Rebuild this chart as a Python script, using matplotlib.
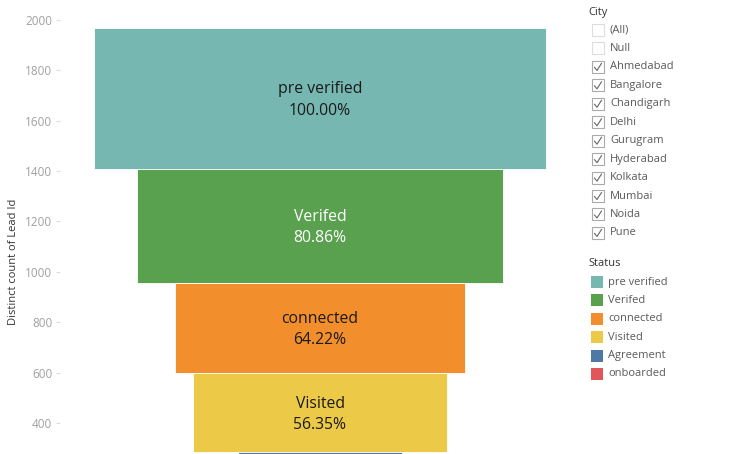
import numpy as np
import matplotlib
matplotlib.use('Agg')
import matplotlib.pyplot as plt
from matplotlib.patches import Rectangle
from matplotlib.lines import Line2D

plt.rcParams['font.family'] = ['Open Sans', 'DejaVu Sans']

# funnel data (distinct count of Lead Id per status)
statuses = ['pre verified', 'Verifed', 'connected', 'Visited', 'Agreement', 'onboarded']
counts = [559, 452, 359, 315, 204, 79]
colors = ['#76B7B2', '#59A14F', '#F28E2B', '#EDC948', '#4E79A7', '#E15759']
label_colors = ['#1a1a1a', 'white', '#1a1a1a', '#1a1a1a', 'white', 'white']

cities = ['(All)', 'Null', 'Ahmedabad', 'Bangalore', 'Chandigarh', 'Delhi', 'Gurugram',
          'Hyderabad', 'Kolkata', 'Mumbai', 'Noida', 'Pune']
city_checked = [False, False] + [True] * 10

yticks = [400, 600, 800, 1000, 1200, 1400, 1600, 1800, 2000]

W, H = 736, 454
fig = plt.figure(figsize=(W / 100, H / 100), dpi=100, facecolor='white')


def fx(px):
    return px / W


def fy(py):
    return 1 - py / H


ax = fig.add_axes([fx(60), 0, fx(580) - fx(60), 1])

# stacked from the bottom: last status sits at 0
bottoms = np.cumsum([0] + counts[::-1])[:-1][::-1]
ax.bar(np.zeros(len(counts)), counts, bottom=bottoms, width=counts, color=colors,
       edgecolor='white', linewidth=0.6)

for i, (s, c) in enumerate(zip(statuses, counts)):
    pct = c / counts[0] * 100
    yc = bottoms[i] + c / 2
    if yc > 300:
        ax.text(0, yc - 6, '%s\n%.2f%%' % (s, pct), ha='center', va='center',
                fontsize=11.3, color=label_colors[i], linespacing=1.45)

ax.set_xlim(-321.5, 321.5)
ax.set_ylim(277, 2079)
ax.set_xticks([])
ax.set_yticks(yticks)
ax.tick_params(axis='y', length=3, color='#dddddd', labelcolor='#a0a0a0', labelsize=8.5, pad=2.5)
for sp in ax.spines.values():
    sp.set_visible(False)
ax.set_ylabel('Distinct count of Lead Id', fontsize=8, color='#333333')
ax.yaxis.set_label_coords(-(60 - 19) / 520, 1 - 262 / H)

# City filter
fig.text(fx(588), fy(12), 'City', fontsize=8, color='#333333', va='center', ha='left')
for i, (name, chk) in enumerate(zip(cities, city_checked)):
    y = 30 + i * 18.45
    ec = '#aaaaaa' if chk else '#dddddd'
    fig.add_artist(Rectangle((fx(592), fy(y + 6)), fx(12), 12 / H, transform=fig.transFigure,
                             facecolor='white', edgecolor=ec, linewidth=0.8))
    if chk:
        fig.add_artist(Line2D([fx(594.5), fx(597), fx(601.5)], [fy(y + 0.5), fy(y + 3.5), fy(y - 3.5)],
                              transform=fig.transFigure, color='#666666', linewidth=0.8))
    fig.text(fx(610), fy(y), name, fontsize=8, color='#5a5a5a', va='center', ha='left')

# Status colour legend
fig.text(fx(588), fy(263), 'Status', fontsize=8, color='#333333', va='center', ha='left')
for i, (s, c) in enumerate(zip(statuses, colors)):
    y = 282 + i * 18.4
    fig.add_artist(Rectangle((fx(591), fy(y + 6)), fx(12), 12 / H, transform=fig.transFigure,
                             facecolor=c, edgecolor='none'))
    fig.text(fx(608), fy(y), s, fontsize=8, color='#5a5a5a', va='center', ha='left')

fig.savefig('out.png', dpi=100)
